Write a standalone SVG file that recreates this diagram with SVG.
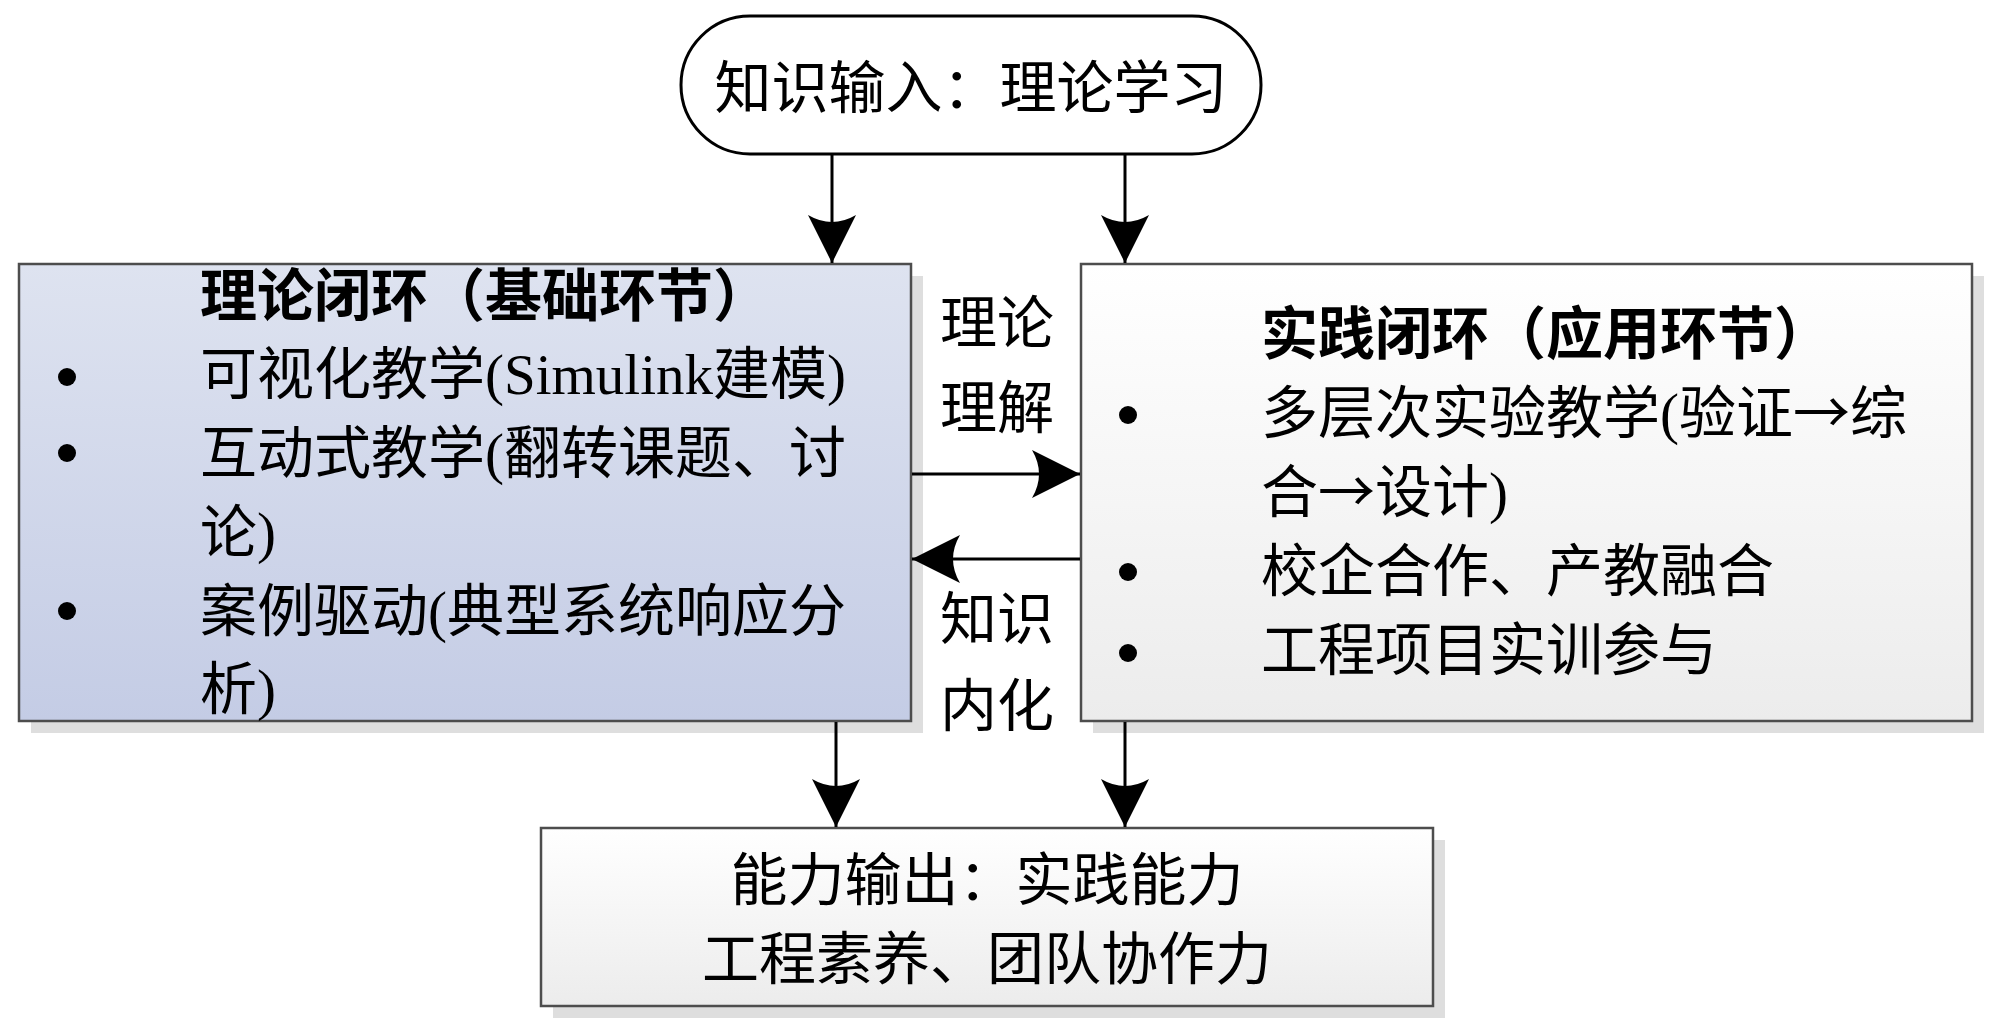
<svg xmlns="http://www.w3.org/2000/svg" width="2000" height="1033" viewBox="0 0 2000 1033">
<style>
.t{font-family:"Liberation Serif","Noto Sans CJK SC",serif;font-size:57px;fill:#000}
.b{font-weight:bold}
.cj{font-family:"Noto Sans CJK SC",sans-serif}
.box{stroke:#4d4d4d;stroke-width:2.5}
.sh{fill:#dedede}
.ln{stroke:#000;stroke-width:3;fill:none}
</style>
<defs>
<linearGradient id="gb" x1="0" y1="0" x2="0" y2="1">
<stop offset="0" stop-color="#dee3f0"/>
<stop offset="1" stop-color="#c4cce5"/>
</linearGradient>
<linearGradient id="gw" x1="0" y1="0" x2="0" y2="1">
<stop offset="0" stop-color="#ffffff"/>
<stop offset="1" stop-color="#ececec"/>
</linearGradient>
<marker id="ah" viewBox="-50 -26 52 52" refX="0" refY="0" markerWidth="52" markerHeight="52" markerUnits="userSpaceOnUse" orient="auto">
<path d="M0,0 L-48,-24 Q-34,0 -48,24 Z" fill="#000"/>
</marker>
</defs>
<rect width="2000" height="1033" fill="#fff"/>

<g id="input">
<rect x="681" y="16" width="580" height="138" rx="69" ry="69" fill="#fff" stroke="#000" stroke-width="3"/>
<text class="t" x="971" y="108" text-anchor="middle">知识输入：理论学习</text>
</g>

<g id="theory">
<rect class="sh" x="31" y="276" width="892" height="457"/>
<rect class="box" x="19" y="264" width="892" height="457" fill="url(#gb)"/>
<text class="t b" x="200" y="316">理论闭环（基础环节）</text>
<circle cx="67" cy="377" r="9"/>
<circle cx="67" cy="453" r="9"/>
<circle cx="67" cy="611" r="9"/>
<text class="t" x="200" y="394">可视化教学(Simulink建模)</text>
<text class="t" x="200" y="473">互动式教学(翻转课题、讨</text>
<text class="t" x="200" y="552">论)</text>
<text class="t" x="200" y="631">案例驱动(典型系统响应分</text>
<text class="t" x="200" y="709">析)</text>
</g>

<g id="practice">
<rect class="sh" x="1093" y="276" width="891" height="457"/>
<rect class="box" x="1081" y="264" width="891" height="457" fill="url(#gw)"/>
<text class="t b" x="1261" y="354">实践闭环（应用环节）</text>
<circle cx="1128" cy="415" r="9"/>
<circle cx="1128" cy="572" r="9"/>
<circle cx="1128" cy="653" r="9"/>
<text class="t" x="1261" y="433">多层次实验教学(验证<tspan class="cj">→</tspan>综</text>
<text class="t" x="1261" y="512">合<tspan class="cj">→</tspan>设计)</text>
<text class="t" x="1261" y="591">校企合作、产教融合</text>
<text class="t" x="1261" y="670">工程项目实训参与</text>
</g>

<g id="output">
<rect class="sh" x="553" y="840" width="892" height="178"/>
<rect class="box" x="541" y="828" width="892" height="178" fill="url(#gw)"/>
<text class="t" x="987" y="900" text-anchor="middle">能力输出：实践能力</text>
<text class="t" x="987" y="979" text-anchor="middle">工程素养、团队协作力</text>
</g>

<g id="connectors">
<line class="ln" x1="832" y1="154" x2="832" y2="263" marker-end="url(#ah)"/>
<line class="ln" x1="1125" y1="154" x2="1125" y2="263" marker-end="url(#ah)"/>
<line class="ln" x1="912" y1="474" x2="1080" y2="474" marker-end="url(#ah)"/>
<line class="ln" x1="1080" y1="559" x2="912" y2="559" marker-end="url(#ah)"/>
<line class="ln" x1="836" y1="722" x2="836" y2="827" marker-end="url(#ah)"/>
<line class="ln" x1="1125" y1="722" x2="1125" y2="827" marker-end="url(#ah)"/>
<text class="t" x="997" y="343" text-anchor="middle">理论</text>
<text class="t" x="997" y="428" text-anchor="middle">理解</text>
<text class="t" x="997" y="639" text-anchor="middle">知识</text>
<text class="t" x="997" y="726" text-anchor="middle">内化</text>
</g>
</svg>
